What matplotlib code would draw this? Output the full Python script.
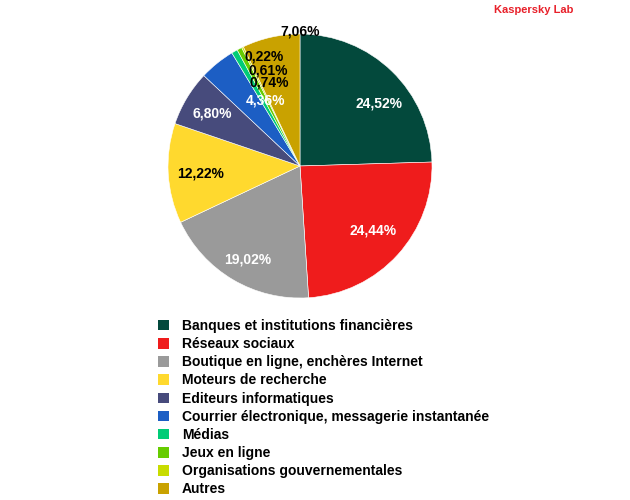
import matplotlib.pyplot as plt
from matplotlib.patches import Patch

plt.rcParams['font.family'] = ['Liberation Sans', 'DejaVu Sans']

# categories, shares (%) and colours, clockwise from 12 o'clock
categories = ['Banques et institutions financières', 'Réseaux sociaux',
              'Boutique en ligne, enchères Internet', 'Moteurs de recherche',
              'Editeurs informatiques', 'Courrier électronique, messagerie instantanée',
              'Médias', 'Jeux en ligne', 'Organisations gouvernementales', 'Autres']
shares = [24.52, 24.44, 19.02, 12.22, 6.80, 4.36, 0.74, 0.61, 0.22, 7.06]
colors = ['#03493c', '#ef1c1c', '#9a9a9a', '#ffd92e', '#474b7c',
          '#1c5ec4', '#00cc77', '#66cc00', '#c8dc00', '#c9a200']
label_colors = ['white', 'white', 'white', 'black', 'white',
                'white', 'black', 'black', 'black', 'black']

# where the percentage labels sit (pie coordinates)
label_pos = [(0.60, 0.47), (0.557, -0.485), (-0.394, -0.705), (-0.754, -0.06),
             (-0.667, 0.40), (-0.261, 0.496), (-0.231, 0.629), (-0.239, 0.727),
             (-0.269, 0.826), (0.0, 1.02)]

fig = plt.figure(figsize=(6.3, 5), dpi=100)
ax = fig.add_axes([168 / 630, 202 / 500, 264 / 630, 264 / 500])

wedges, _ = ax.pie(shares, colors=colors, startangle=90, counterclock=False,
                   wedgeprops=dict(edgecolor='white', linewidth=0.4))
ax.set_xlim(-1, 1)
ax.set_ylim(-1, 1)
ax.set_aspect('equal')

for v, (x, y), c in zip(shares, label_pos, label_colors):
    txt = f'{v:.2f}%'.replace('.', ',')
    ax.text(x, y, txt, ha='center', va='center', fontsize=10,
            fontweight='bold', color=c, clip_on=False)

handles = [Patch(facecolor=c, edgecolor='none') for c in colors]
fig.legend(handles, categories, loc='upper left',
           bbox_to_anchor=(158 / 630, 1 - 319 / 500), frameon=False,
           prop=dict(size=10, weight='bold'), borderpad=0, borderaxespad=0,
           handlelength=0.79, handleheight=0.79, handletextpad=0.94,
           labelspacing=0.30)

fig.text(534 / 630, 1 - 10 / 500, 'Kaspersky Lab', ha='center', va='center',
         fontsize=8, fontweight='bold', color='#e8202a')

fig.savefig('out.png', dpi=100)
